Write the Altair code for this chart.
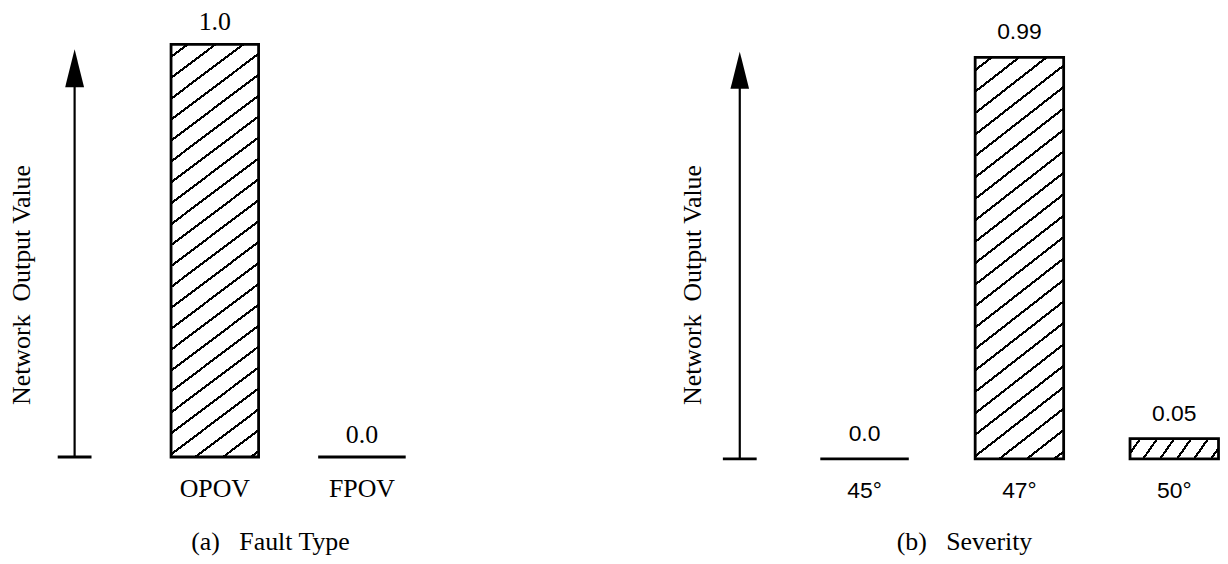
import math
import altair as alt
import pandas as pd

# ---------------- data ----------------
# Panel (a): Fault Type
a_categories = ["OPOV", "FPOV"]
a_values = [1.0, 0.0]
a_value_labels = ["1.0", "0.0"]

# Panel (b): Severity
b_categories = ["45°", "47°", "50°"]
b_values = [0.0, 0.99, 0.05]
b_value_labels = ["0.0", "0.99", "0.05"]

y_title = "Network\u00a0 Output Value"
a_caption = "(a)\u00a0\u00a0 Fault Type"
b_caption = "(b)\u00a0\u00a0 Severity"

SERIF = "Liberation Serif"
SANS = "Liberation Sans"


def hatch(w, h, angle_deg, period, thick=2.2):
    """Diagonal hatch as a striped linear gradient (bbox units)."""
    al = math.radians(angle_deg)
    sa, ca = math.sin(al), math.cos(al)
    D = w * sa + h * ca
    Q = (w * sa) ** 2 + (h * ca) ** 2
    s = D / Q
    stops = [{"offset": 0, "color": "white"}]
    c = period * 0.6
    while c < D:
        lo = max(0.0, (c - thick / 2) / D)
        hi = min(1.0, (c + thick / 2) / D)
        stops += [
            {"offset": round(lo, 5), "color": "white"},
            {"offset": round(lo, 5), "color": "black"},
            {"offset": round(hi, 5), "color": "black"},
            {"offset": round(hi, 5), "color": "white"},
        ]
        c += period
    stops.append({"offset": 1, "color": "white"})
    return {"gradient": "linear", "x1": 0, "y1": 0,
            "x2": round(s * w * sa, 5), "y2": round(s * h * ca, 5),
            "stops": stops}


def one(**kw):
    return pd.DataFrame([kw])


def panel(cats, vals, labels, fills, cfg):
    df = pd.DataFrame({"cat": cats, "value": vals, "label": labels})
    x = alt.X("cat:N", axis=None,
              scale=alt.Scale(domain=cats, range=cfg["xrange"],
                              paddingInner=cfg["pad_inner"], paddingOuter=0))
    y = alt.Y("value:Q", axis=None,
              scale=alt.Scale(domain=[0, 1], range=cfg["yrange"]))

    layers = []
    for c in cats:
        layers.append(
            alt.Chart(df)
            .transform_filter(alt.FieldEqualPredicate(field="cat", equal=c))
            .mark_bar(fill=fills[c], stroke="black", strokeWidth=2.8)
            .encode(x=x, y=y)
        )
    # value labels above bars
    layers.append(
        alt.Chart(df).mark_text(font=cfg["num_font"], fontSize=cfg["num_size"],
                                baseline="middle", dy=cfg["val_dy"], color="black")
        .encode(x=x, y=y, text="label:N")
    )
    # category labels under bars
    layers.append(
        alt.Chart(df).mark_text(font=cfg["cat_font"], fontSize=cfg["cat_size"],
                                baseline="middle", color="black")
        .encode(x=x, y=alt.value(cfg["cat_y"]), text="cat:N")
    )
    # axis arrow: stem, head, base tick
    layers.append(
        alt.Chart(one(v=0)).mark_rule(color="black", strokeWidth=2.2)
        .encode(x=alt.value(cfg["axis_x"]), y=alt.datum(0),
                y2=alt.value(cfg["head_y"] + 10))
    )
    layers.append(
        alt.Chart(one(v=0)).mark_point(shape="M0,-1L0.5,1L-0.5,1Z",
                                       size=cfg["head_size"], filled=True,
                                       color="black", opacity=1)
        .encode(x=alt.value(cfg["axis_x"]), y=alt.value(cfg["head_y"]))
    )
    layers.append(
        alt.Chart(one(v=0)).mark_rule(color="black", strokeWidth=2.8)
        .encode(x=alt.value(cfg["axis_x"] - 17), x2=alt.value(cfg["axis_x"] + 17),
                y=alt.datum(0))
    )
    # y title
    layers.append(
        alt.Chart(one(t=y_title)).mark_text(font=SERIF, fontSize=26, angle=270,
                                            baseline="middle", align="center",
                                            color="black")
        .encode(x=alt.value(cfg["ytitle_x"]), y=alt.value(277), text="t:N")
    )
    # caption
    layers.append(
        alt.Chart(one(t=cfg["caption"])).mark_text(font=SERIF, fontSize=26,
                                                   baseline="middle", align="center",
                                                   color="black")
        .encode(x=alt.value(cfg["caption_x"]), y=alt.value(536), text="t:N")
    )
    return alt.layer(*layers).properties(width=cfg["width"], height=548)


# panel (a)
a_fills = {
    "OPOV": hatch(88, 415, 37, 16.8),
    "FPOV": "white",
}
a_cfg = dict(width=650, xrange=[164, 400], pad_inner=0.405, yrange=[450, 35],
             num_font=SERIF, num_size=26, val_dy=-22, cat_font=SERIF, cat_size=26,
             cat_y=482, axis_x=67, head_y=59, head_size=1444, ytitle_x=14,
             caption=a_caption, caption_x=264)

# panel (b)
b_fills = {
    "45°": "white",
    "47°": hatch(89, 404, 38, 17.0),
    "50°": hatch(89, 20.4, 55, 14.0),
}
b_cfg = dict(width=560, xrange=[167, 567.5], pad_inner=0.4286, yrange=[452, 44],
             num_font=SANS, num_size=23, val_dy=-25, cat_font=SANS, cat_size=23,
             cat_y=484, axis_x=86, head_y=61, head_size=1400, ytitle_x=39,
             caption=b_caption, caption_x=312)

pa = panel(a_categories, a_values, a_value_labels, a_fills, a_cfg)
pb = panel(b_categories, b_values, b_value_labels, b_fills, b_cfg)

chart = (
    alt.hconcat(pa, pb, spacing=0)
    .properties(padding=0, background="white")
    .configure_view(stroke=None)
)

chart.save("out.html", embed_options={"renderer": "svg", "actions": False})
